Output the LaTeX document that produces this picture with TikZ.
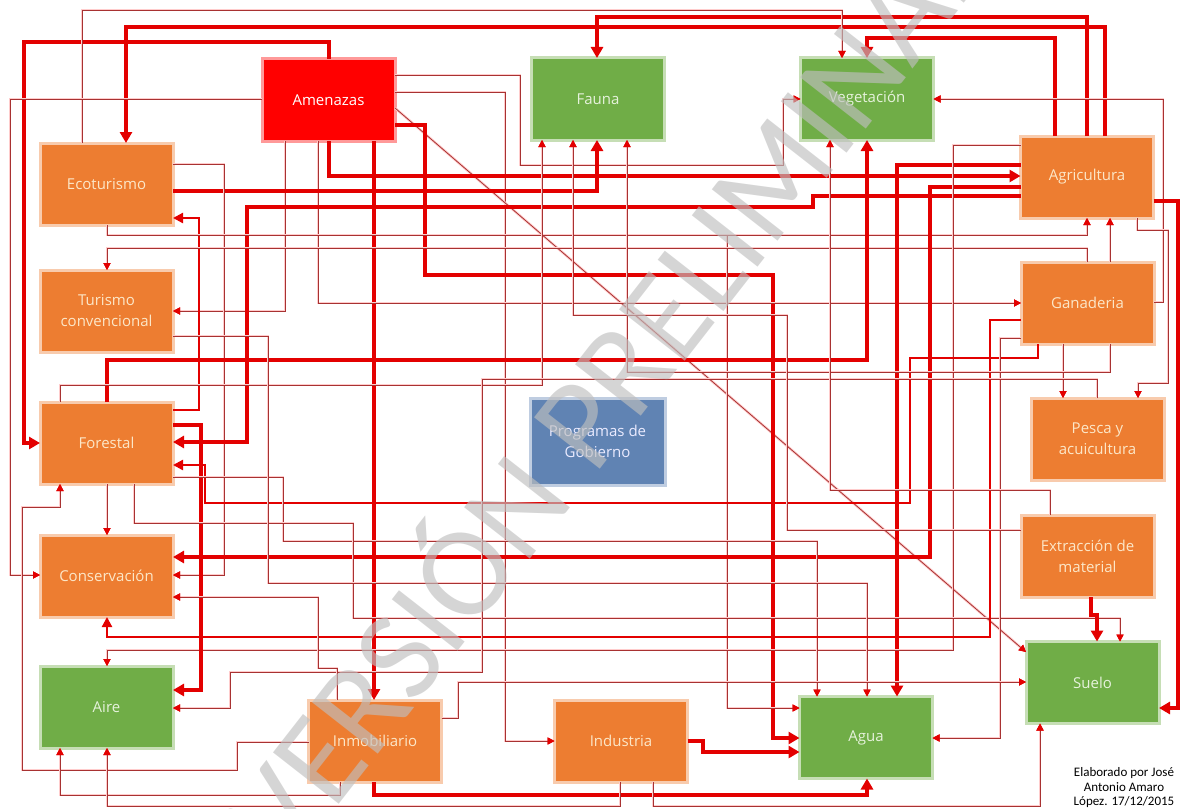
\documentclass[tikz,border=0pt]{standalone}
\usepackage{fontspec}
\setmainfont{Open Sans}
\newfontfamily\notefont{Carlito}
\usetikzlibrary{arrows.meta}
\definecolor{boxorange}{HTML}{ED7D31}
\definecolor{boxgreen}{HTML}{70AD47}
\definecolor{boxred}{HTML}{FF0000}
\definecolor{boxblue}{HTML}{6083B3}
\definecolor{linkred}{HTML}{E30000}
\definecolor{linkdark}{HTML}{A83232}
\definecolor{txtorange}{HTML}{FCE7C8}
\definecolor{txtgreen}{HTML}{E6F2DC}
\tikzset{
  sector/.style={minimum width=133pt, minimum height=82pt, inner sep=2pt, outer sep=0pt,
    align=center, line width=3pt, font=\fontsize{15}{21}\selectfont},
  human/.style={sector, fill=boxorange, draw=boxorange!40, text=txtorange},
  nature/.style={sector, fill=boxgreen, draw=boxgreen!40, text=txtgreen},
  strong/.style={draw=linkred, line width=3.4pt, -{Triangle[length=11pt,width=12pt]}},
  medium/.style={draw=linkred, line width=2.2pt, -{Triangle[length=10pt,width=10pt]}},
  weak/.style={draw=linkdark, line width=0.8pt, preaction={draw=red!20, line width=2.6pt},
    -{Triangle[length=7pt,width=7pt,color=linkred]}}
}
\begin{document}
\begin{tikzpicture}[x=1pt,y=-1pt]
  \useasboundingbox (0,0) rectangle (1182,808);
  \node[sector, fill=boxred, draw=red!40, text=white] (amen) at (328.5,100) {Amenazas};
  \node[nature] (fau) at (598,99) {Fauna};
  \node[nature] (veg) at (867,99) {Vegetación};
  \node[human] (eco) at (106.5,184) {Ecoturismo};
  \node[human] (agr) at (1087,177) {Agricultura};
  \node[human] (tur) at (106.5,311) {Turismo\\convencional};
  \node[human] (gan) at (1087.5,303) {Ganaderia};
  \node[human] (forl) at (106.5,443) {Forestal};
  \node[sector, minimum width=135pt, minimum height=87pt, fill=boxblue, draw=boxblue!40, text=white!92!blue] (prog) at (597.5,441.5) {Programas de\\Gobierno};
  \node[human] (pesca) at (1097.5,439) {Pesca y\\acuicultura};
  \node[human] (cons) at (106.5,576) {Conservación};
  \node[human] (ext) at (1087.5,556) {Extracción de\\material};
  \node[nature] (aire) at (106.5,707) {Aire};
  \node[nature] (suelo) at (1092.5,682.5) {Suelo};
  \node[human] (inmo) at (375,741) {Inmobiliario};
  \node[human] (ind) at (621,741) {Industria};
  \node[nature] (agua) at (866,737.5) {Agua};

  \draw[strong] (agr.north -| 1055,0) |- (867,38) -- (veg.north -| 867,0);
  \draw[strong] (agr.north -| 1087,0) |- (597,17) -- (fau.north -| 597,0);
  \draw[strong] (agr.north -| 1105,0) |- (126,27) -- (eco.north -| 126,0);
  \draw[strong] (amen.north -| 329,0) |- (24,42) |- (forl.west |- 0,443);
  \draw[weak] (eco.north -| 82,0) |- (842,10) -- (veg.north -| 842,0);
  \draw[weak] (amen.west |- 0,99) -| (10,575) -- (cons.west |- 0,575);
  \draw[weak] (amen.east |- 0,75) -| (520,165) -| (783,99) -- (veg.west |- 0,99);
  \draw[weak] (amen.east |- 0,92) -| (505,741) -- (ind.west |- 0,741);
  \draw[weak] (amen.east |- 0,108) -- (suelo.west |- 0,652);
  \draw[strong] (amen.east |- 0,125) -| (425,275) -| (773,738) -- (agua.west |- 0,738);
  \draw[strong] (amen.south -| 374,0) -- (inmo.north -| 374,0);
  \draw[weak] (amen.south -| 285,0) |- (tur.east |- 0,311);
  \draw[weak] (amen.south -| 318,0) |- (gan.west |- 0,303);
  \draw[strong] (amen.south -| 329,0) |- (agr.west |- 0,176);
  \draw[strong] (eco.east |- 0,191) -| (fau.south -| 597,0);
  \draw[weak] (eco.east |- 0,164) -| (224,575) -- (cons.east |- 0,575);
  \draw[strong] (agr.west |- 0,196) -| (813,207) -| (247,442) -- (forl.east |- 0,442);
  \draw[medium] (forl.east |- 0,410) -| (199,218) -- (eco.east |- 0,218);
  \draw[weak] (eco.south -| 107,0) |- (1087,235) -- (agr.south -| 1087,0);
  \draw[weak] (eco.south -| 107,0) |- (727,235) |- (agua.west |- 0,708);
  \draw[weak] (gan.north -| 1087,0) |- (107,248) -- (tur.north -| 107,0);
  \draw[weak] (gan.north -| 1110,0) -- (agr.south -| 1110,0);
  \draw[strong] (agr.west |- 0,165) -| (agua.north -| 897,0);
  \draw[strong] (agr.west |- 0,187) -| (930,557) -- (cons.east |- 0,557);
  \draw[weak] (agr.west |- 0,145) -| (953,650) -| (aire.north -| 107,0);
  \draw[strong] (forl.north -| 107,0) |- (867,360) -- (veg.south -| 867,0);
  \draw[weak] (forl.north -| 60,0) |- (542,385) -- (fau.south -| 542,0);
  \draw[strong] (forl.east |- 0,425) -| (201,690) -- (aire.east |- 0,690);
  \draw[medium] (gan.south -| 1038,0) |- (910,358) |- (205,503) |- (forl.east |- 0,465);
  \draw[weak] (forl.east |- 0,477) -| (283,541) -| (agua.north -| 817,0);
  \draw[weak] (forl.south -| 134,0) |- (353,523) |- (1120,618) -- (suelo.north -| 1120,0);
  \draw[weak] (forl.south -| 107,0) -- (cons.north -| 107,0);
  \draw[weak] (tur.east |- 0,336) -| (268,583) -| (agua.north -| 867,0);
  \draw[medium] (gan.west |- 0,320) -| (990,637) -| (cons.south -| 107,0);
  \draw[weak] (gan.west |- 0,338) -| (1000,738) -- (agua.east |- 0,738);
  \draw[weak] (gan.east |- 0,302) -| (1163,99) -- (veg.east |- 0,99);
  \draw[weak] (agr.south -| 1137,0) |- (1168,230) |- (1138,383) -- (pesca.north -| 1138,0);
  \draw[weak] (gan.south -| 1063,0) -- (pesca.north -| 1063,0);
  \draw[weak] (gan.south -| 1110,0) |- (627,372) -- (fau.south -| 627,0);
  \draw[weak] (pesca.north -| 1097,0) |- (482,379) |- (230,672) |- (aire.east |- 0,708);
  \draw[weak] (ext.north -| 1050,0) |- (830,490) -- (veg.south -| 830,0);
  \draw[strong] (ext.south -| 1091,0) |- (1097,615) -- (suelo.north -| 1097,0);
  \draw[weak] (ext.west |- 0,530) -| (787,315) -| (fau.south -| 573,0);
  \draw[strong] (agr.east |- 0,201) -| (1178,708) -- (suelo.east |- 0,708);
  \draw[weak] (inmo.east |- 0,718) -| (458,682) -- (suelo.west |- 0,682);
  \draw[weak] (inmo.west |- 0,742) -| (237,770) -| (22,507) -| (forl.south -| 60,0);
  \draw[weak] (inmo.south -| 340,0) |- (60,795) -- (aire.south -| 60,0);
  \draw[weak] (inmo.north -| 337,0) |- (318,668) |- (cons.east |- 0,597);
  \draw[strong] (inmo.south -| 374,0) |- (867,795) -- (agua.south -| 867,0);
  \draw[strong] (ind.east |- 0,741) -| (703,752) -- (agua.west |- 0,752);
  \draw[weak] (ind.south -| 620,0) |- (107,806) -- (aire.south -| 107,0);
  \draw[weak] (ind.south -| 653,0) |- (1040,806) -- (suelo.south -| 1040,0);

  \node[font=\notefont\fontsize{13}{14.5}\selectfont, align=center] (credit) at (1124,788) {Elaborado por José\\Antonio Amaro\\López. 17/12/2015};
  \node[rotate=52, anchor=base, font=\notefont\fontsize{130}{130}\selectfont, text=black!25, text opacity=0.65] (mark) at (645,412) {VERSIÓN PRELIMINAR};
\end{tikzpicture}
\end{document}
